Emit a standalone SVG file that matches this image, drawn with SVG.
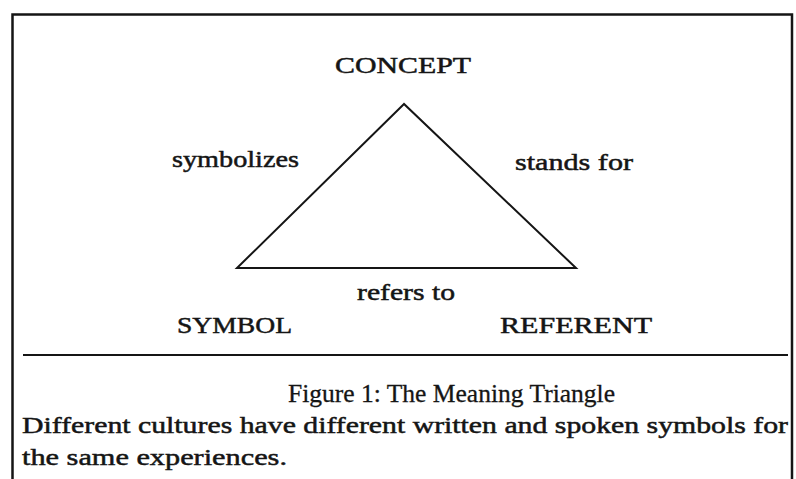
<svg xmlns="http://www.w3.org/2000/svg" width="796" height="479" viewBox="0 0 796 479">
<style>
.t{font-family:"Liberation Serif","Times New Roman",serif;fill:#151515;stroke:#151515;stroke-width:0.5;font-size:24px;}
.cap{font-size:26px;stroke-width:0.3;}
.ln{stroke:#151515;fill:none;}
</style>
<rect x="0" y="0" width="796" height="479" fill="#ffffff"/>
<g id="frame">
<path class="ln" d="M12.5,479 V14.5 H792 V479" stroke-width="2.5"/>
<line class="ln" x1="23" y1="355" x2="788" y2="355" stroke-width="2"/>
</g>
<g id="connectors">
<polygon class="ln" points="404,104 237,268 576,268" stroke-width="2" stroke-linejoin="miter"/>
</g>
<g id="concept"><text class="t" x="335" y="73" textLength="136" lengthAdjust="spacingAndGlyphs">CONCEPT</text></g>
<g id="symbol"><text class="t" x="177" y="333" textLength="115" lengthAdjust="spacingAndGlyphs">SYMBOL</text></g>
<g id="referent"><text class="t" x="500" y="333" textLength="152" lengthAdjust="spacingAndGlyphs">REFERENT</text></g>
<g id="labels">
<text class="t" x="172" y="167" textLength="127" lengthAdjust="spacingAndGlyphs">symbolizes</text>
<text class="t" x="515" y="170" textLength="118" lengthAdjust="spacingAndGlyphs">stands for</text>
<text class="t" x="357" y="300" textLength="98" lengthAdjust="spacingAndGlyphs">refers to</text>
</g>
<g id="caption">
<text class="t cap" x="288" y="402" textLength="327" lengthAdjust="spacingAndGlyphs">Figure 1: The Meaning Triangle</text>
<text class="t" x="22" y="433" textLength="766" lengthAdjust="spacingAndGlyphs">Different cultures have different written and spoken symbols for</text>
<text class="t" x="22" y="465" textLength="265" lengthAdjust="spacingAndGlyphs">the same experiences.</text>
</g>
</svg>
